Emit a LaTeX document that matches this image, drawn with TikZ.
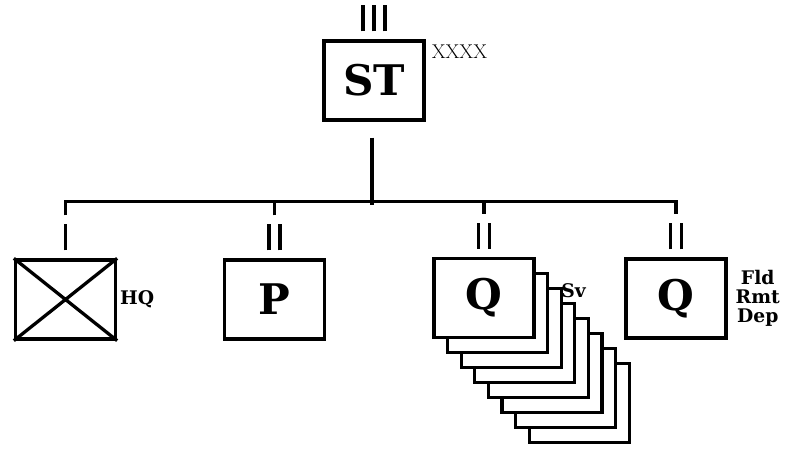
\documentclass[tikz,border=0pt]{standalone}
\usepackage{fontspec}
\setmainfont{Latin Modern Roman}
\newfontfamily\unitfont{DejaVu Serif}
\usetikzlibrary{positioning, calc}

\begin{document}
\begin{tikzpicture}[
    x=0.03cm, y=-0.03cm,
    unit/.style={
        draw, line width=2.8pt, fill=white,
        minimum width=3cm, minimum height=2.37cm,
        inner sep=0pt, font=\unitfont\fontsize{36}{36}\selectfont\bfseries
    },
    tag/.style={font=\unitfont\fontsize{16}{16}\selectfont\bfseries, align=center, inner sep=1pt},
    link/.style={line width=2.8pt},
    echelon/.style={line width=3pt}
]
\useasboundingbox (0,0) rectangle (786,449);

% Parent unit
\node[unit] (st) at (374,80.5) {ST};
\node[anchor=west, font=\fontsize{17}{17}\selectfont, inner sep=0pt] (size) at ($(st.north east)+(6,12)$) {XXXX};

% Subordinate units (stacked copies behind the first Q)
\node[unit] (hq) at (65.5,299.5) {};
\node[unit] (p)  at (274.5,299.5) {P};
\foreach \i in {7,...,1}
    \node[unit] (sv\i) at ({484+\i*13.6},{298+\i*15}) {};
\node[unit] (q1) at (484,298) {Q};
\node[unit] (q2) at (676,298.5) {Q};

% Headquarters cross
\draw[link] (hq.north west) -- (hq.south east) (hq.north east) -- (hq.south west);

% Labels
\node[tag, right=0.05cm of hq] (hqlabel) {HQ};
\node[tag, anchor=west] (svlabel) at (560,291) {Sv};
\node[tag, right=0.2cm of q2] (q2label) {Fld\\Rmt\\Dep};

% Echelon marks
\foreach \u/\n in {st/3, hq/1, p/2, q1/2, q2/2}
    \foreach \k in {1,...,\n}
        \draw[echelon] ($(\u.north)+({(\k-(\n+1)/2)*10.8},-8)$) -- ++(0,-26);

% Connectors
\foreach \u in {hq,p,q1,q2}
    \coordinate (\u-drop) at ($(\u.north)+(0,-43)$);
\draw[link] (hq-drop) -- ++(0,-14) -| (q2-drop);
\draw[link] (p-drop) -- ++(0,-14);
\draw[link] (q1-drop) -- ++(0,-14);
\draw[link] ($(st.south)+(-2,16)$) -- ++(0,67);

\end{tikzpicture}
\end{document}
